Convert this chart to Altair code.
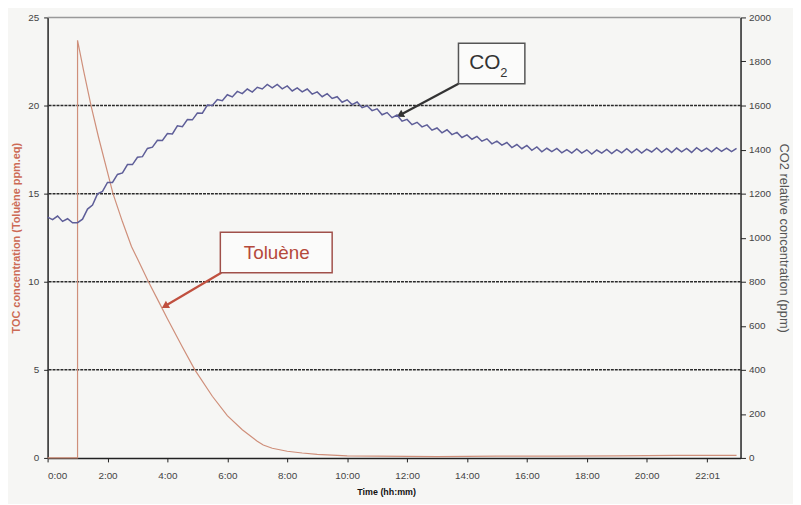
import altair as alt
import pandas as pd

# ---- data ----
# CO2 relative concentration (ppm), sampled every 10 minutes
co2_time_min = list(range(0, 1390, 10))
co2_ppm = [
    1093, 1082, 1098, 1074, 1086, 1068, 1068, 1084, 1130, 1148,
    1199, 1210, 1251, 1251, 1287, 1294, 1332, 1332, 1365, 1368,
    1405, 1411, 1442, 1441, 1473, 1471, 1508, 1504, 1536, 1535,
    1566, 1565, 1602, 1600, 1627, 1622, 1649, 1639, 1664, 1654,
    1675, 1661, 1683, 1675, 1696, 1680, 1696, 1676, 1689, 1666,
    1680, 1662, 1675, 1652, 1662, 1640, 1654, 1632, 1640, 1615,
    1626, 1604, 1616, 1590, 1599, 1577, 1585, 1558, 1568, 1545,
    1557, 1529, 1537, 1513, 1524, 1503, 1512, 1488, 1498, 1476,
    1490, 1468, 1478, 1455, 1467, 1447, 1460, 1438, 1449, 1426,
    1438, 1420, 1432, 1409, 1423, 1404, 1419, 1397, 1412, 1390,
    1406, 1391, 1405, 1385, 1400, 1384, 1403, 1384, 1399, 1380,
    1398, 1384, 1401, 1382, 1400, 1385, 1404, 1385, 1403, 1384,
    1402, 1389, 1407, 1388, 1405, 1387, 1407, 1390, 1405, 1387,
    1409, 1392, 1407, 1390, 1409, 1392, 1407, 1391, 1406,
]

# TOC concentration (Toluene ppm.eq)
tol_time_min = [0, 60, 60, 72, 87, 102, 131, 150, 168, 180, 202, 222, 240, 270,
                295, 330, 360, 390, 420, 432, 450, 480, 510, 540, 600, 660,
                780, 900, 1020, 1140, 1260, 1380]
tol_ppm = [0, 0, 23.7, 22.0, 20.0, 18.2, 15.0, 13.4, 12.0, 11.3, 10.0, 8.9, 7.9,
           6.3, 5.0, 3.5, 2.4, 1.6, 0.95, 0.73, 0.55, 0.38, 0.28, 0.2, 0.12,
           0.1, 0.08, 0.1, 0.1, 0.12, 0.15, 0.15]

x_tick_values = [0, 120, 240, 360, 480, 600, 720, 840, 960, 1080, 1200, 1321]
grid_levels = [5, 10, 15, 20]
top_level = [25]

# annotation boxes (x in minutes, y in left-axis units)
box_x = [823, 346]
box_x2 = [956, 570]
box_y = [23.54, 12.81]
box_y2 = [21.24, 10.51]
box_stroke = ["#555555", "#a0504a"]

arrow_x = [823, 348]
arrow_y = [21.24, 10.51]
arrow_x2 = [708, 237]
arrow_y2 = [19.49, 8.65]
arrow_color = ["#333333", "#c0503f"]
arrow_angle = [242, 240]

co2_df = pd.DataFrame({"t": co2_time_min, "co2": co2_ppm})
tol_df = pd.DataFrame({"t": tol_time_min, "tol": tol_ppm,
                       "i": list(range(len(tol_time_min)))})
grid_df = pd.DataFrame({"y": grid_levels})
top_df = pd.DataFrame({"y": top_level})
box_df = pd.DataFrame({"x": box_x, "x2": box_x2, "y": box_y, "y2": box_y2,
                       "stroke": box_stroke})
arrow_df = pd.DataFrame({"x": arrow_x, "y": arrow_y, "x2": arrow_x2,
                         "y2": arrow_y2, "color": arrow_color,
                         "angle": arrow_angle})

FONT = "Liberation Sans"

x_scale = alt.Scale(domain=[0, 1388], nice=False, zero=False)
x_axis = alt.Axis(
    title="Time (hh:mm)", values=x_tick_values,
    labelExpr="floor(datum.value/60) + ':' + (datum.value % 60 < 10 ? '0' : '') + (datum.value % 60)",
    grid=False, domainColor="#222222", domainWidth=1.5, tickColor="#222222",
    tickSize=4, labelColor="#444444", labelFontSize=10, labelFont=FONT,
    labelPadding=9, titleFont=FONT, titleFontSize=9, titleFontWeight="bold",
    titleColor="#111111", titlePadding=7, titleX=342,
)
y_scale = alt.Scale(domain=[0, 25], nice=False)
y_axis = alt.Axis(
    title="TOC concentration (Toluène ppm.eq)", values=[0, 5, 10, 15, 20, 25],
    grid=False, domainColor="#222222", domainWidth=1.5, tickColor="#222222",
    tickSize=4, labelColor="#444444", labelFontSize=10, labelFont=FONT,
    labelPadding=5, titleFont=FONT, titleFontSize=11, titleFontWeight="bold",
    titleColor="#cc6a55", titlePadding=6,
)


def X(field):
    return alt.X(field, type="quantitative", scale=x_scale, axis=x_axis)


def Y(field):
    return alt.Y(field, type="quantitative", scale=y_scale, axis=y_axis)


grid = alt.Chart(grid_df).mark_rule(color="#2a2a2a", strokeWidth=1.5,
                                    strokeDash=[3, 1]).encode(y=Y("y"))
top = alt.Chart(top_df).mark_rule(color="#999999", strokeWidth=1.5).encode(y=Y("y"))

tol_line = alt.Chart(tol_df).mark_line(color="#cf8f7a", strokeWidth=1.2).encode(
    x=X("t"), y=Y("tol"), order="i:Q")

boxes = alt.Chart(box_df).mark_rect(fill="#fbfbfa", strokeWidth=1.5).encode(
    x=X("x"), x2="x2", y=Y("y"), y2="y2",
    stroke=alt.Stroke("stroke:N", scale=None))

arrows = alt.Chart(arrow_df).mark_rule(strokeWidth=2.2).encode(
    x=X("x"), y=Y("y"), x2="x2", y2="y2",
    color=alt.Color("color:N", scale=None))

heads = alt.Chart(arrow_df).mark_point(shape="triangle", filled=True, size=70,
                                        opacity=1).encode(
    x=X("x2"), y=Y("y2"), color=alt.Color("color:N", scale=None),
    angle=alt.Angle("angle:Q", scale=None))

label_co = alt.Chart(pd.DataFrame({"x": [876], "y": [22.4], "t": ["CO"]})).mark_text(
    font=FONT, fontSize=21, color="#333333").encode(x=X("x"), y=Y("y"), text="t:N")
label_2 = alt.Chart(pd.DataFrame({"x": [914], "y": [21.85], "t": ["2"]})).mark_text(
    font=FONT, fontSize=13, color="#333333").encode(x=X("x"), y=Y("y"), text="t:N")
label_tol = alt.Chart(pd.DataFrame({"x": [459], "y": [11.63], "t": ["Toluène"]})).mark_text(
    font=FONT, fontSize=19, color="#b5493b").encode(x=X("x"), y=Y("y"), text="t:N")

left = alt.layer(top, grid, tol_line, arrows, heads, boxes, label_co, label_2, label_tol)

co2_line = alt.Chart(co2_df).mark_line(color="#5e5e98", strokeWidth=1.5).encode(
    x=X("t"),
    y=alt.Y("co2:Q", scale=alt.Scale(domain=[0, 2000], nice=False),
            axis=alt.Axis(orient="right", title="CO2 relative concentration (ppm)",
                          values=list(range(0, 2001, 200)), format="d", grid=False,
                          domainColor="#222222", domainWidth=1.5,
                          tickColor="#222222", tickSize=5, labelColor="#444444",
                          labelFontSize=10, labelFont=FONT, labelPadding=3,
                          titleFont=FONT, titleFontSize=13, titleFontWeight="normal",
                          titleColor="#555555", titlePadding=6)))

chart = alt.layer(left, co2_line).resolve_scale(y="independent").properties(
    width=700, height=445,
    autosize=alt.AutoSizeParams(type="none"),
    padding={"left": 40, "top": 7, "right": 53, "bottom": 44},
    background="#f6f6f4",
).configure_view(stroke=None)

chart.save("out.html", embed_options={"renderer": "svg", "actions": False})
